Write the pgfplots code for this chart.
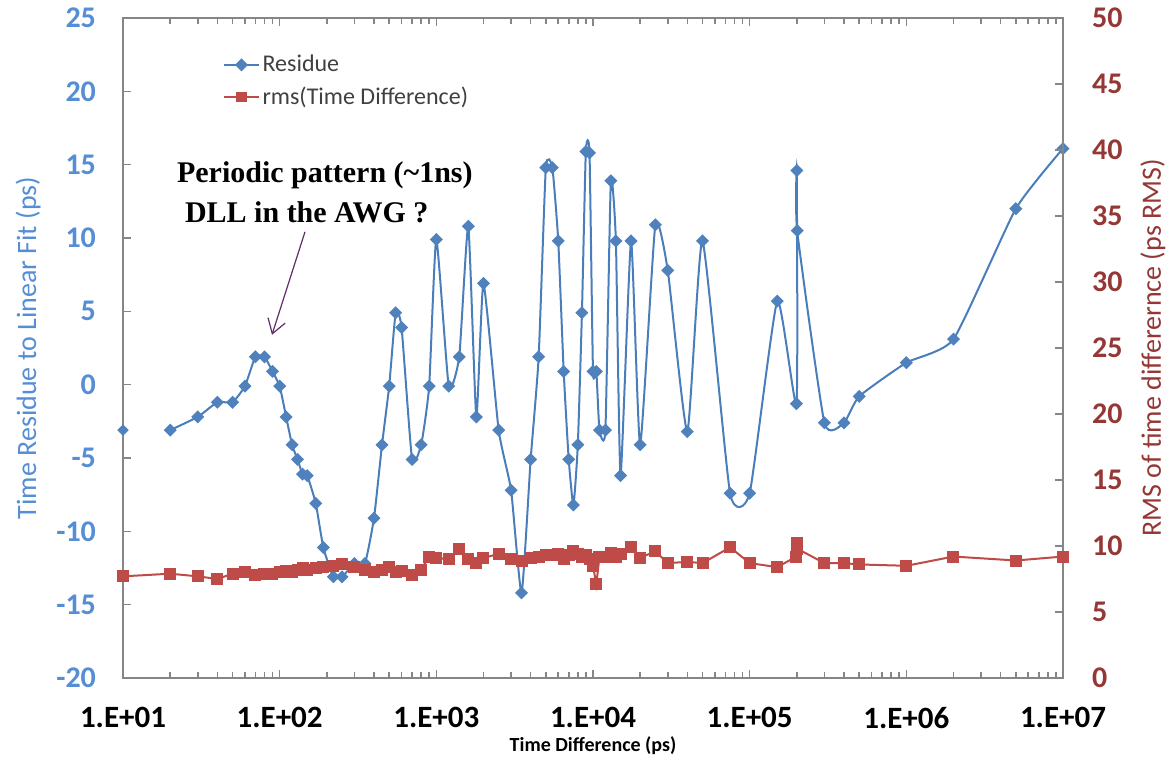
\documentclass[border=0pt]{standalone}
\usepackage{fontspec}
\setmainfont{Carlito}
\newfontfamily\annfont{Liberation Serif}
\usepackage{pgfplots}
\usepackage{pgfplotstable}
\pgfplotsset{compat=1.18}
\usetikzlibrary{arrows.meta}

\definecolor{resblue}{HTML}{4A7EBB}
\definecolor{resmark}{HTML}{4F81BD}
\definecolor{rmsred}{HTML}{BE4B48}
\definecolor{lblue}{HTML}{558ED5}
\definecolor{dred}{HTML}{953735}
\definecolor{axgray}{HTML}{868686}
\definecolor{leggray}{HTML}{404040}
\definecolor{arrowpurple}{HTML}{5F2B6B}

\pgfplotstableread{
x y
10 -3.1
}\residuefirst

\pgfplotstableread{
x y
20 -3.1
30 -2.2
40 -1.2
50 -1.2
60 -0.1
70 1.9
80 1.9
90 0.9
100 -0.1
110 -2.2
120 -4.1
130 -5.1
140 -6.1
150 -6.2
170 -8.1
190 -11.1
220 -13.1
250 -13.1
300 -12.2
350 -12.2
400 -9.1
450 -4.1
500 -0.1
550 4.9
600 3.9
700 -5.1
800 -4.1
900 -0.1
1000 9.9
1200 -0.1
1400 1.9
1600 10.8
1800 -2.2
2000 6.9
2500 -3.1
3000 -7.2
3500 -14.2
4000 -5.1
4500 1.9
5000 14.8
5500 14.8
6000 9.8
6500 0.9
7000 -5.1
7500 -8.2
8000 -4.1
8500 4.9
9000 15.9
9500 15.8
10000 0.9
10500 0.9
11000 -3.1
12000 -3.1
13000 13.9
14000 9.8
15000 -6.2
17500 9.8
20000 -4.1
25000 10.9
30000 7.8
40000 -3.2
50000 9.8
75000 -7.4
100000 -7.4
150000 5.7
199000 -1.3
200000 14.6
201000 10.5
300000 -2.6
400000 -2.6
500000 -0.8
1000000 1.5
2000000 3.1
5000000 12.0
10000000 16.1
}\residue

\pgfplotstableread{
x y
10 7.7
20 7.9
30 7.7
40 7.5
50 7.9
60 8.0
70 7.8
80 7.9
90 7.9
100 8.0
110 8.1
120 8.0
130 8.2
140 8.3
150 8.2
170 8.3
190 8.4
220 8.5
250 8.6
300 8.4
350 8.2
400 8.0
450 8.2
500 8.4
550 8.0
600 8.1
700 7.8
800 8.2
900 9.2
1000 9.1
1200 9.0
1400 9.8
1600 9.0
1800 8.7
2000 9.1
2500 9.4
3000 9.0
3500 8.9
4000 9.1
4500 9.2
5000 9.3
5500 9.3
6000 9.4
6500 9.0
7000 9.3
7500 9.6
8000 9.4
8500 9.2
9000 9.3
9500 9.0
10000 8.5
10500 7.1
11000 9.2
12000 9.2
13000 9.5
14000 9.2
15000 9.4
17500 9.9
20000 9.1
25000 9.6
30000 8.7
40000 8.8
50000 8.7
75000 9.9
100000 8.7
150000 8.4
199000 9.2
200000 10.2
201000 9.8
300000 8.7
400000 8.7
500000 8.6
1000000 8.5
2000000 9.2
5000000 8.9
10000000 9.2
}\rms

\begin{document}
\begin{tikzpicture}
\useasboundingbox (0,0) rectangle (587.5pt,379pt);
\begin{axis}[
  at={(61.5pt,40pt)}, anchor=south west,
  width=470pt, height=330pt, scale only axis,
  xmode=log, xmin=10, xmax=1e7,
  axis line style={axgray, line width=1pt},
  tick style={axgray, line width=0.8pt},
  major tick length=4pt, minor tick length=3pt,
  ymin=-20, ymax=25, ytick={-20,-15,...,25},
  ytick pos=left,
  xtick={10,100,1000,10000,100000,1000000,10000000},
  xticklabels={1.E+01,1.E+02,1.E+03,1.E+04,1.E+05,1.E+06,1.E+07},
  xticklabel style={font=\fontsize{15.5}{18}\selectfont\bfseries, text=black, yshift=-11pt},
  yticklabel style={font=\fontsize{15}{18}\selectfont\bfseries, text=lblue, xshift=-10pt},
  /pgf/number format/assume math mode=true,
  xlabel={Time Difference (ps)},
  xlabel style={at={(axis description cs:0.5,-0.103)}, anchor=center, font=\fontsize{10}{12}\selectfont\bfseries},
  ylabel={Time Residue to Linear Fit (ps)},
  ylabel style={at={(axis description cs:-0.101,0.5)}, anchor=center, font=\fontsize{14}{16}\selectfont, text=lblue},
  legend style={at={(0.10,0.955)}, anchor=north west, draw=none, fill=none,
    font=\fontsize{12}{14}\selectfont, text=leggray, row sep=3pt,
    nodes={inner sep=1.5pt}},
  legend cell align=left,
]
\addplot[color=resblue, line width=1pt, smooth, tension=0.3, mark=square*, mark size=1.8pt,
  mark options={rotate=45, fill=resmark, draw=resmark, solid}] table {\residue};
\addlegendentry{Residue}
\addlegendimage{color=rmsred, line width=1pt, mark=square*, mark size=2.2pt, mark options={fill=rmsred, draw=rmsred}}
\addlegendentry{rms(Time Difference)}
\addplot[forget plot, only marks, mark=square*, mark size=1.8pt,
  mark options={rotate=45, fill=resmark, draw=resmark, solid}] table {\residuefirst};

\node[anchor=west, font=\annfont\fontsize{15}{18}\selectfont\bfseries] at (rel axis cs:0.05,0.762) {Periodic pattern (\textasciitilde1ns)};
\node[anchor=west, font=\annfont\fontsize{15}{18}\selectfont\bfseries] at (rel axis cs:0.0585,0.705) {DLL in the AWG ?};
\draw[arrowpurple, line width=0.6pt, -{Straight Barb[length=7pt,width=9pt]}] (rel axis cs:0.1936,0.676) -- (rel axis cs:0.1585,0.520);
\end{axis}

\begin{axis}[
  at={(61.5pt,40pt)}, anchor=south west,
  width=470pt, height=330pt, scale only axis,
  xmode=log, xmin=10, xmax=1e7,
  axis line style={axgray, line width=1pt},
  tick style={axgray, line width=0.8pt},
  major tick length=4pt, minor tick length=3pt,
  axis x line=none,
  axis y line*=right,
  ymin=0, ymax=50, ytick={0,5,...,50},
  yticklabel style={font=\fontsize{15}{18}\selectfont\bfseries, text=dred, xshift=11pt},
  /pgf/number format/assume math mode=true,
  ylabel={RMS of time differernce (ps RMS)},
  ylabel style={at={(axis description cs:1.0957,0.5)}, anchor=center, font=\fontsize{14}{16}\selectfont, text=dred},
]
\addplot[color=rmsred, line width=1pt, mark=square*, mark size=2.5pt,
  mark options={fill=rmsred, draw=rmsred, solid}] table {\rms};
\end{axis}
\end{tikzpicture}
\end{document}
